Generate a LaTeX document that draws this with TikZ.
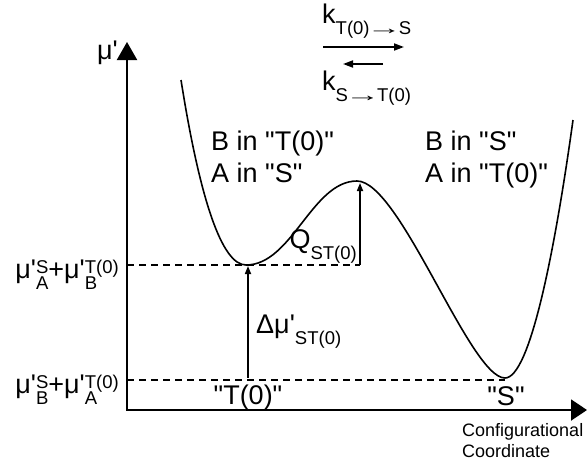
\documentclass[tikz,border=0pt]{standalone}
\usepackage{fontspec}
\usepackage{graphicx}
\setmainfont{Liberation Sans}
\usetikzlibrary{arrows.meta}
\newcommand{\prm}{\textquotesingle}
\newcommand{\qq}{\textquotedbl}
\newcommand{\rateTo}{\kern-3pt\scalebox{1.9}[1]{→}\kern-3pt}
\newcommand{\subFont}{\fontsize{18.5}{20}\selectfont}
\newcommand{\subLow}[1]{\raisebox{-11pt}{\subFont #1}}
\newcommand{\supSub}[2]{{\subFont
\setbox0=\hbox{#1}\setbox2=\hbox{#2}%
\dimen0=\wd0 \ifdim\wd2>\dimen0 \dimen0=\wd2 \fi
\rlap{\raisebox{5pt}{\copy0}}\rlap{\raisebox{-11pt}{\copy2}}\kern\dimen0}}
\begin{document}
\begin{tikzpicture}[
x=1pt, y=-1pt,
every node/.style={font=\fontsize{27}{32}\selectfont, inner sep=0pt},
axisArrow/.style={line width=2pt},
wellCurve/.style={line width=1.6pt},
levelLine/.style={line width=1.4pt, dash pattern=on 7pt off 5pt},
gapArrow/.style={line width=1.6pt, -{Triangle[length=8pt,width=6pt]}},
rateArrow/.style={line width=1.8pt, -{Triangle[length=10pt,width=7pt]}}
]
\useasboundingbox (0,0) rectangle (587,467);
% axes
\coordinate (origin) at (127,410);
\coordinate (yTip) at (127,42);
\coordinate (xTip) at (587,410);
\draw[axisArrow, -{Triangle[length=18pt,width=20pt]}] (origin) -- (yTip);
\draw[axisArrow, -{Triangle[length=16pt,width=21pt]}] ([xshift=-1pt]origin) -- (xTip);
\node[anchor=base east] (muAxis) at (118,59) {μ\prm};
\node[anchor=north west, align=left, font=\fontsize{18}{21}\selectfont] (confCoord) at (462,423)
{Configurational\\Coordinate};
% potential curve
\coordinate (curveStart) at (181,80);
\coordinate (tMin) at (246,265);
\coordinate (peak) at (357,181);
\coordinate (sMin) at (505,378);
\coordinate (curveEnd) at (573,120);
\draw[wellCurve] (curveStart) .. controls (200,200) and (222,265) .. (tMin)
.. controls (292,265) and (312,181) .. (peak)
.. controls (400,181) and (470,378) .. (sMin)
.. controls (530,378) and (555,250) .. (curveEnd);
% levels
\coordinate (tLevel) at (127,265);
\coordinate (sLevel) at (127,380);
\coordinate (qBase) at (360,265);
\coordinate (qTop) at (360,183);
\coordinate (dBase) at (248,378);
\coordinate (dTop) at (248,266);
\coordinate (sEnd) at (505,380);
\draw[levelLine] (tLevel) -- (qBase);
\draw[levelLine] (sLevel) -- (sEnd);
\draw[gapArrow] (dBase) -- (dTop);
\draw[wellCurve, -{Triangle[length=8pt,width=6pt]}] (qBase) -- (qTop);
\node[anchor=base east] (levelT) at (119,278) {μ\prm\supSub{S}{A}+μ\prm\supSub{T(0)}{B}};
\node[anchor=base east] (levelS) at (119,393) {μ\prm\supSub{S}{B}+μ\prm\supSub{T(0)}{A}};
\node[anchor=base west] (deltaMu) at (256,333) {Δμ\prm\subLow{ST(0)}};
\node[anchor=base east] (barrierQ) at (357,248) {Q\subLow{ST(0)}};
\node[anchor=base] (stateT) at (248,404) {\qq T(0)\qq};
\node[anchor=base] (stateS) at (506,405) {\qq S\qq};
% occupancy
\node[anchor=north west, align=left] (leftWell) at (211,131) {B in \qq T(0)\qq\\A in \qq S\qq};
\node[anchor=north west, align=left] (rightWell) at (425,131) {B in \qq S\qq\\A in \qq T(0)\qq};
% rates
\node[anchor=base west] (kForward) at (322,23) {k\subLow{T(0)\rateTo S}};
\node[anchor=base west] (kBackward) at (322,90) {k\subLow{S\rateTo T(0)}};
\coordinate (fwdStart) at (323,47);
\coordinate (fwdEnd) at (404,47);
\coordinate (bwdStart) at (383,64);
\coordinate (bwdEnd) at (343,64);
\draw[rateArrow] (fwdStart) -- (fwdEnd);
\draw[rateArrow] (bwdStart) -- (bwdEnd);
\end{tikzpicture}
\end{document}
